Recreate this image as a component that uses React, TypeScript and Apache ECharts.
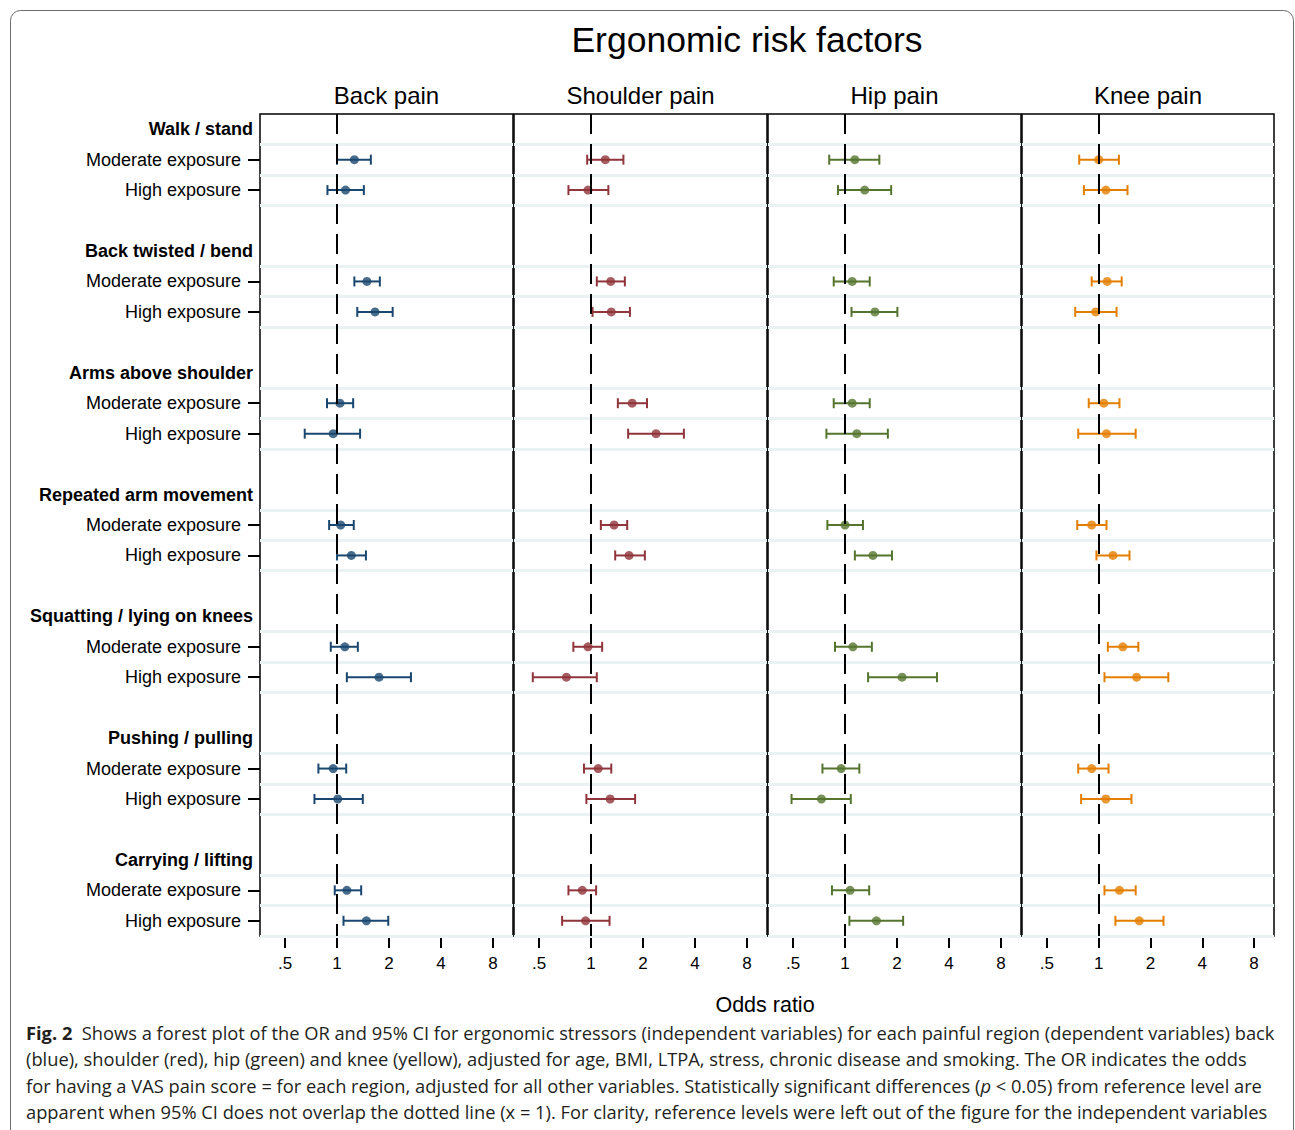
import React, { useEffect, useRef } from "react";
import * as echarts from "echarts";

const TITLE = "Ergonomic risk factors";
const X_TITLE = "Odds ratio";
const PANELS = ["Back pain", "Shoulder pain", "Hip pain", "Knee pain"];
const COLORS = ["#1a476f", "#90353b", "#55752f", "#e37e00"];
const GROUPS = [
  "Walk / stand",
  "Back twisted / bend",
  "Arms above shoulder",
  "Repeated arm movement",
  "Squatting / lying on knees",
  "Pushing / pulling",
  "Carrying / lifting",
];
const LEVELS = ["Moderate exposure", "High exposure"];
const X_TICKS = [0.5, 1, 2, 4, 8];
const X_MIN = 0.358;
const X_MAX = 10.45;

// order: group1 moderate, group1 high, group2 moderate, ...
const BACK_OR = [1.26, 1.12, 1.49, 1.66, 1.04, 0.95, 1.05, 1.21, 1.11, 1.75, 0.95, 1.01, 1.14, 1.48];
const BACK_LO = [1.0, 0.88, 1.26, 1.31, 0.875, 0.65, 0.9, 1.0, 0.92, 1.14, 0.78, 0.74, 0.97, 1.09];
const BACK_HI = [1.57, 1.43, 1.77, 2.1, 1.24, 1.36, 1.25, 1.47, 1.32, 2.68, 1.13, 1.41, 1.38, 1.98];

const SHOULDER_OR = [1.21, 0.96, 1.3, 1.31, 1.73, 2.38, 1.36, 1.66, 0.96, 0.72, 1.1, 1.29, 0.89, 0.93];
const SHOULDER_LO = [0.95, 0.74, 1.08, 1.02, 1.43, 1.64, 1.14, 1.38, 0.79, 0.46, 0.91, 0.94, 0.74, 0.68];
const SHOULDER_HI = [1.54, 1.26, 1.57, 1.68, 2.11, 3.45, 1.62, 2.05, 1.16, 1.08, 1.31, 1.8, 1.07, 1.28];

const HIP_OR = [1.14, 1.3, 1.1, 1.49, 1.1, 1.17, 1.0, 1.45, 1.11, 2.14, 0.95, 0.73, 1.07, 1.52];
const HIP_LO = [0.81, 0.91, 0.86, 1.09, 0.86, 0.78, 0.79, 1.14, 0.875, 1.36, 0.74, 0.49, 0.84, 1.06];
const HIP_HI = [1.58, 1.85, 1.39, 2.01, 1.39, 1.77, 1.27, 1.87, 1.43, 3.41, 1.21, 1.08, 1.38, 2.17];

const KNEE_OR = [1.0, 1.1, 1.12, 0.96, 1.07, 1.11, 0.91, 1.21, 1.38, 1.66, 0.91, 1.1, 1.32, 1.72];
const KNEE_LO = [0.77, 0.82, 0.91, 0.73, 0.875, 0.76, 0.75, 0.97, 1.13, 1.08, 0.76, 0.79, 1.08, 1.25];
const KNEE_HI = [1.31, 1.47, 1.36, 1.27, 1.32, 1.64, 1.11, 1.51, 1.7, 2.54, 1.14, 1.55, 1.64, 2.38];

const CAPTION_LINES = [
  "{b|Fig. 2}{r|  Shows a forest plot of the OR and 95% CI for ergonomic stressors (independent variables) for each painful region (dependent variables) back}",
  "{r|(blue), shoulder (red), hip (green) and knee (yellow), adjusted for age, BMI, LTPA, stress, chronic disease and smoking. The OR indicates the odds}",
  "{r|for having a VAS pain score = for each region, adjusted for all other variables. Statistically significant differences (}{i|p}{r| < 0.05) from reference level are}",
  "{r|apparent when 95% CI does not overlap the dotted line (x = 1). For clarity, reference levels were left out of the figure for the independent variables}",
];

const PANEL_DATA = [
  [BACK_OR, BACK_LO, BACK_HI],
  [SHOULDER_OR, SHOULDER_LO, SHOULDER_HI],
  [HIP_OR, HIP_LO, HIP_HI],
  [KNEE_OR, KNEE_LO, KNEE_HI],
];

const FONT = '"Liberation Sans", Arial, Helvetica, sans-serif';

export default function App() {
  const ref = useRef<HTMLDivElement>(null);

  useEffect(() => {
    if (!ref.current) return;
    const chart = echarts.init(ref.current, null, { renderer: "svg" });

    type Row = { label: string; kind: "h" | "e" | "s" };
    const rows: Row[] = [];
    GROUPS.forEach((g, gi) => {
      rows.push({ label: g, kind: "h" });
      LEVELS.forEach((l) => rows.push({ label: l, kind: "e" }));
      if (gi < GROUPS.length - 1) rows.push({ label: "", kind: "s" });
    });
    const nRows = rows.length;
    const dataRows = rows.map((r, i) => (r.kind === "e" ? i : -1)).filter((i) => i >= 0);
    const labelRows = rows.map((r, i) => (r.kind !== "s" ? i : -1)).filter((i) => i >= 0);
    const boundarySet = new Set<number>();
    dataRows.forEach((r) => {
      boundarySet.add(r - 0.5);
      boundarySet.add(r + 0.5);
    });
    const boundaries = Array.from(boundarySet).sort((a, b) => a - b);

    const lefts = [260, 514, 768, 1022];
    const widths = [253, 253, 253, 252];
    const top = 114;
    const height = 822;

    const grids = lefts.map((l, i) => ({
      left: l,
      top,
      width: widths[i],
      height,
      show: true,
      borderColor: "#000",
      borderWidth: 1.5,
      backgroundColor: "#fff",
      containLabel: false,
    }));

    const fmtX = (v: number) => {
      const n = Math.round(v * 1000) / 1000;
      return n < 1 ? String(n).replace(/^0/, "") : String(n);
    };

    const xAxes = lefts.map((_, i) => ({
      type: "log",
      logBase: 2,
      gridIndex: i,
      position: "bottom",
      min: X_MIN,
      max: X_MAX,
      axisLine: { show: false, onZero: false },
      splitLine: { show: false },
      axisTick: {
        show: true,
        length: 12,
        lineStyle: { color: "#000", width: 2 },
        customValues: X_TICKS,
      },
      axisLabel: {
        customValues: X_TICKS,
        margin: 19,
        fontSize: 17,
        fontFamily: FONT,
        color: "#000",
        formatter: (v: number) => fmtX(v),
      },
    }));

    const yAxes = lefts.map((_, i) => ({
      type: "value",
      gridIndex: i,
      inverse: true,
      position: "left",
      min: -0.5,
      max: nRows - 0.5,
      show: i === 0,
      axisLine: { show: false, onZero: false },
      splitLine: { show: false },
      axisTick: {
        show: i === 0,
        length: 12,
        lineStyle: { color: "#000", width: 2 },
        customValues: dataRows,
      },
      axisLabel: {
        show: i === 0,
        customValues: labelRows,
        margin: 7,
        formatter: (v: number) => {
          const r = rows[Math.round(v)];
          if (!r) return "";
          return r.kind === "h" ? `{h|${r.label}}` : `{e|${r.label}}`;
        },
        rich: {
          h: { fontSize: 18, fontWeight: "bold", color: "#000", fontFamily: FONT },
          e: { fontSize: 18, color: "#000", fontFamily: FONT, padding: [0, 12, 0, 0] },
        },
      },
    }));

    const series: any[] = [];
    PANEL_DATA.forEach(([ors, los, his], pi) => {
      const color = COLORS[pi];
      const pts = ors.map((v, k) => [v, dataRows[k], los[k], his[k]]);
      series.push({
        type: "scatter",
        xAxisIndex: pi,
        yAxisIndex: pi,
        data: [],
        silent: true,
        z: 1,
        markLine: {
          silent: true,
          symbol: ["none", "none"],
          label: { show: false },
          lineStyle: { color: "#eaf2f3", width: 3, type: "solid" },
          data: boundaries.map((b) => ({ yAxis: b })),
        },
      });
      series.push({
        type: "custom",
        xAxisIndex: pi,
        yAxisIndex: pi,
        z: 3,
        data: pts,
        encode: { x: [0, 2, 3], y: 1 },
        renderItem: (_params: any, api: any) => {
          const row = api.value(1);
          const p1 = api.coord([api.value(2), row]);
          const p2 = api.coord([api.value(3), row]);
          const h = 5;
          const style = { stroke: color, lineWidth: 2, fill: null };
          return {
            type: "group",
            children: [
              { type: "line", shape: { x1: p1[0], y1: p1[1], x2: p2[0], y2: p2[1] }, style },
              { type: "line", shape: { x1: p1[0], y1: p1[1] - h, x2: p1[0], y2: p1[1] + h }, style },
              { type: "line", shape: { x1: p2[0], y1: p2[1] - h, x2: p2[0], y2: p2[1] + h }, style },
            ],
          };
        },
      });
      series.push({
        type: "scatter",
        xAxisIndex: pi,
        yAxisIndex: pi,
        z: 4,
        symbol: "circle",
        symbolSize: 9,
        itemStyle: { color },
        data: pts.map((p) => [p[0], p[1]]),
      });
      series.push({
        type: "scatter",
        xAxisIndex: pi,
        yAxisIndex: pi,
        data: [],
        silent: true,
        z: 6,
        markLine: {
          silent: true,
          symbol: ["none", "none"],
          label: { show: false },
          lineStyle: { color: "#000", width: 2, type: [20, 10] },
          data: [{ xAxis: 1 }],
        },
      });
    });

    const graphics: any[] = [
      {
        type: "rect",
        shape: { x: 10.5, y: 10.5, width: 1283, height: 1150, r: 10 },
        style: { stroke: "#6b6b6b", fill: "none", lineWidth: 1 },
        silent: true,
        z: -10,
      },
      {
        type: "text",
        x: 747,
        y: 40,
        style: {
          text: TITLE,
          font: `35.5px ${FONT}`,
          fill: "#000",
          align: "center",
          verticalAlign: "middle",
          textAlign: "center",
          textVerticalAlign: "middle",
        },
      },
      {
        type: "text",
        x: 765,
        y: 1005,
        style: {
          text: X_TITLE,
          font: `21.5px ${FONT}`,
          fill: "#000",
          align: "center",
          verticalAlign: "middle",
          textAlign: "center",
          textVerticalAlign: "middle",
        },
      },
    ];
    PANELS.forEach((p, i) => {
      graphics.push({
        type: "text",
        x: lefts[i] + widths[i] / 2,
        y: 95,
        style: {
          text: p,
          font: `24px ${FONT}`,
          fill: "#000",
          align: "center",
          verticalAlign: "middle",
          textAlign: "center",
          textVerticalAlign: "middle",
        },
      });
    });
    const capFont = '"Open Sans", "Noto Sans", sans-serif';
    const capSize = 18.3;
    CAPTION_LINES.forEach((line, i) => {
      graphics.push({
        type: "text",
        x: 26,
        y: 1032 + i * 26.5,
        style: {
          text: line,
          fill: "#231f20",
          align: "left",
          verticalAlign: "middle",
          textAlign: "left",
          textVerticalAlign: "middle",
          rich: {
            b: { fontSize: capSize, fontWeight: "bold", fontFamily: capFont, fill: "#231f20" },
            r: { fontSize: capSize, fontFamily: capFont, fill: "#231f20" },
            i: { fontSize: capSize, fontStyle: "italic", fontFamily: capFont, fill: "#231f20" },
          },
        },
      });
    });

    chart.setOption({
      animation: false,
      backgroundColor: "#fff",
      textStyle: { fontFamily: FONT },
      grid: grids,
      xAxis: xAxes,
      yAxis: yAxes,
      series,
      graphic: graphics,
    });

    return () => chart.dispose();
  }, []);

  return (
    <div
      ref={ref}
      style={{ position: "absolute", left: 0, top: 0, width: 1295, height: 1130 }}
    />
  );
}
